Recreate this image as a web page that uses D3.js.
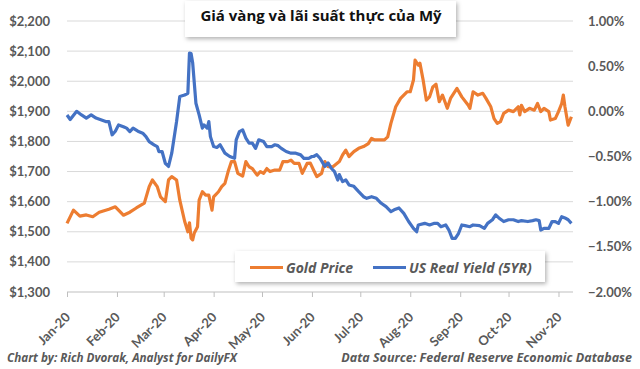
<!DOCTYPE html>
<html>
<head>
<meta charset="utf-8">
<script src="https://cdn.jsdelivr.net/npm/d3@7"></script>
<style>
  html, body { margin: 0; padding: 0; background: #fff; }
  svg { display: block; font-family: Lato, "Open Sans", sans-serif; }
  .wide { font-family: "Open Sans", Lato, sans-serif; }
</style>
</head>
<body>
<div id="chart"></div>
<script>
// Gold price vs US 5yr real yield, Jan - Nov 2020
// days are counted from 1 Jan 2020

const goldDay = [0, 4, 8, 12, 16, 20, 26, 30, 35, 39, 43, 48, 51, 53, 56, 58, 61, 63, 65, 68,
  70, 73, 75, 76, 77, 78, 79, 81, 82, 84, 86, 88, 90, 91, 94, 96, 98, 100, 102, 104,
  106, 109, 111, 113, 115, 118, 120, 122, 124, 126, 129, 132, 134, 137, 139, 141, 144, 146, 149, 151,
  153, 155, 158, 160, 162, 165, 169, 171, 173, 175, 178, 181, 184, 187, 189, 191, 194, 197, 199, 201,
  204, 207, 211, 213, 215, 216, 218, 219, 221, 223, 225, 227, 229, 231, 233, 236, 238, 242, 245, 249,
  250, 252, 255, 258, 260, 263, 265, 267, 269, 271, 274, 277, 280, 281, 282, 284, 287, 290, 292, 294,
  296, 299, 300, 303, 305, 307, 308, 309, 311, 313];
const goldPrice = [1528, 1572, 1552, 1556, 1550, 1565, 1575, 1583, 1555, 1565, 1579, 1595, 1650, 1672, 1650, 1616, 1600, 1672, 1683, 1672,
  1605, 1535, 1500, 1530, 1479, 1473, 1496, 1517, 1605, 1633, 1622, 1622, 1572, 1616, 1633, 1650, 1661, 1700, 1733, 1733,
  1694, 1685, 1733, 1716, 1710, 1688, 1700, 1694, 1710, 1700, 1705, 1705, 1733, 1733, 1738, 1727, 1727, 1694, 1727, 1728,
  1705, 1683, 1694, 1733, 1716, 1716, 1733, 1755, 1771, 1750, 1766, 1777, 1783, 1793, 1810, 1805, 1805, 1805, 1815, 1860,
  1915, 1943, 1965, 1965, 2004, 2070, 2053, 2060, 2004, 1937, 1948, 1981, 1990, 1932, 1954, 1910, 1943, 1976, 1948, 1920,
  1910, 1965, 1954, 1960, 1943, 1915, 1876, 1860, 1866, 1893, 1904, 1899, 1915, 1888, 1920, 1899, 1910, 1904, 1926, 1899,
  1910, 1899, 1871, 1876, 1899, 1926, 1954, 1915, 1854, 1882];

const yieldDay = [0, 2, 6, 9, 12, 15, 18, 21, 24, 26, 28, 30, 32, 35, 37, 39, 41, 44, 47, 49,
  51, 54, 56, 57, 59, 61, 63, 65, 68, 70, 73, 75, 76, 77, 78, 80, 82, 84, 85, 87,
  88, 89, 91, 93, 95, 98, 101, 104, 105, 107, 109, 111, 113, 115, 117, 119, 122, 124, 127, 129,
  131, 133, 136, 139, 142, 145, 147, 150, 152, 153, 155, 157, 160, 162, 164, 166, 168, 169, 171, 173,
  175, 178, 181, 184, 186, 189, 192, 195, 198, 201, 203, 206, 209, 212, 215, 217, 218, 222, 225, 228,
  230, 232, 235, 237, 239, 241, 243, 245, 247, 250, 252, 256, 259, 261, 264, 266, 268, 271, 274, 277,
  280, 282, 286, 289, 291, 293, 294, 296, 299, 301, 303, 305, 307, 309, 311, 313];
const realYield = [-0.04, -0.09, 0.0, -0.04, -0.075, -0.04, -0.075, -0.094, -0.113, -0.113, -0.26, -0.22, -0.15, -0.17, -0.186, -0.224, -0.186, -0.22, -0.242, -0.279,
  -0.335, -0.371, -0.39, -0.445, -0.445, -0.575, -0.61, -0.463, -0.113, 0.164, 0.18, 0.2, 0.645, 0.64, 0.534, 0.09, -0.04, -0.186, -0.15, -0.186,
  -0.113, -0.28, -0.39, -0.40, -0.37, -0.463, -0.5, -0.52, -0.316, -0.224, -0.205, -0.297, -0.353, -0.353, -0.41, -0.316, -0.335, -0.39, -0.39, -0.37,
  -0.38, -0.41, -0.445, -0.463, -0.463, -0.482, -0.52, -0.52, -0.5, -0.5, -0.48, -0.52, -0.61, -0.57, -0.63, -0.667, -0.76, -0.70, -0.778, -0.76,
  -0.815, -0.83, -0.889, -0.945, -0.963, -0.945, -0.963, -1.018, -1.055, -1.11, -1.09, -1.07, -1.13, -1.22, -1.295, -1.333, -1.258, -1.24, -1.258, -1.24,
  -1.24, -1.277, -1.258, -1.314, -1.406, -1.406, -1.35, -1.258, -1.265, -1.277, -1.258, -1.265, -1.295, -1.24, -1.2, -1.147, -1.18, -1.22, -1.2, -1.2,
  -1.22, -1.21, -1.22, -1.21, -1.2, -1.21, -1.314, -1.295, -1.295, -1.22, -1.22, -1.24, -1.166, -1.18, -1.2, -1.24];

const goldTicks = [1300, 1400, 1500, 1600, 1700, 1800, 1900, 2000, 2100, 2200];
const yieldTicks = [1.0, 0.5, 0.0, -0.5, -1.0, -1.5, -2.0];
const monthLabels = ['Jan-20', 'Feb-20', 'Mar-20', 'Apr-20', 'May-20', 'Jun-20', 'Jul-20', 'Aug-20', 'Sep-20', 'Oct-20', 'Nov-20'];

const title = 'Giá vàng và lãi suất thực của Mỹ';
const seriesNames = ['Gold Price', 'US Real Yield (5YR)'];
const creditLeft = 'Chart by: Rich Dvorak, Analyst for DailyFX';
const creditRight = 'Data Source: Federal Reserve Economic Database';

const W = 640, H = 369;
const ORANGE = '#ed7d31', BLUE = '#4472c4', LABEL = '#595959';
const start = new Date(2020, 0, 1);
const toDate = d => d3.timeDay.offset(start, d);

const x = d3.scaleTime().domain([start, new Date(2020, 10, 10)]).range([67, 573]);
const yL = d3.scaleLinear().domain([1300, 2200]).range([292, 21]);
const yR = d3.scaleLinear().domain([-2, 1]).range([292, 21]);

const svg = d3.select('#chart').append('svg')
  .attr('width', W).attr('height', H);

const defs = svg.append('defs');
const sh = defs.append('filter').attr('id', 'shadow')
  .attr('x', '-10%').attr('y', '-30%').attr('width', '120%').attr('height', '170%');
sh.append('feDropShadow').attr('dx', 1.5).attr('dy', 2).attr('stdDeviation', 2)
  .attr('flood-color', '#000').attr('flood-opacity', 0.3);

// gridlines
svg.append('g').selectAll('line')
  .data(goldTicks.slice(1))
  .join('line')
  .attr('x1', 67).attr('x2', 573)
  .attr('y1', d => yL(d)).attr('y2', d => yL(d))
  .attr('stroke', '#d9d9d9').attr('stroke-width', 1);

// bottom axis with month ticks
const xAxis = svg.append('g')
  .attr('transform', `translate(0,${yL(1300)})`)
  .call(d3.axisBottom(x)
    .ticks(d3.timeMonth.every(1))
    .tickSize(5)
    .tickFormat(() => ''));
xAxis.select('.domain').attr('stroke', '#bfbfbf').attr('d', `M67,0H573`);
xAxis.selectAll('.tick line').attr('stroke', '#bfbfbf');

svg.append('g').selectAll('text')
  .data(monthLabels)
  .join('text')
  .attr('transform', (d, i) => `translate(${x(new Date(2020, i, 1)) + 4},${yL(1300) + 26}) rotate(-45)`)
  .attr('text-anchor', 'end')
  .attr('font-size', 13).attr('font-weight', 700)
  .attr('fill', LABEL)
  .text(d => d);

// left axis labels
svg.append('g').selectAll('text')
  .data(goldTicks)
  .join('text')
  .attr('x', 50).attr('y', d => yL(d) + 4.5)
  .attr('text-anchor', 'end')
  .attr('font-size', 13).attr('font-weight', 700)
  .attr('fill', LABEL)
  .text(d => '$' + d3.format(',')(d));

// right axis labels
svg.append('g').selectAll('text')
  .data(yieldTicks)
  .join('text')
  .attr('x', 588).attr('y', d => yR(d) + 4.5)
  .attr('text-anchor', 'start')
  .attr('font-size', 13).attr('font-weight', 700)
  .attr('fill', LABEL)
  .text(d => d3.format('.2f')(d) + '%');

// series
const goldLine = d3.line()
  .x((d, i) => x(toDate(goldDay[i])))
  .y(d => yL(d));
const yieldLine = d3.line()
  .x((d, i) => x(toDate(yieldDay[i])))
  .y(d => yR(d));

svg.append('path')
  .attr('d', goldLine(goldPrice))
  .attr('fill', 'none').attr('stroke', ORANGE)
  .attr('stroke-width', 3.2).attr('stroke-linejoin', 'round');

svg.append('path')
  .attr('d', yieldLine(realYield))
  .attr('fill', 'none').attr('stroke', BLUE)
  .attr('stroke-width', 3.2).attr('stroke-linejoin', 'round');

// title box
svg.append('rect')
  .attr('x', 185).attr('y', 1).attr('width', 271).attr('height', 36)
  .attr('fill', '#fff').attr('filter', 'url(#shadow)');
svg.append('text')
  .attr('class', 'wide')
  .attr('x', 321).attr('y', 21)
  .attr('text-anchor', 'middle')
  .attr('font-size', 15).attr('font-weight', 700)
  .attr('fill', '#111')
  .text(title);

// legend
const lg = svg.append('g');
lg.append('rect')
  .attr('x', 235).attr('y', 251).attr('width', 310).attr('height', 31)
  .attr('fill', '#fff').attr('filter', 'url(#shadow)');
const legendItems = [
  { name: seriesNames[0], color: ORANGE, x: 250 },
  { name: seriesNames[1], color: BLUE, x: 373 }
];
legendItems.forEach(it => {
  lg.append('line')
    .attr('x1', it.x).attr('x2', it.x + 33)
    .attr('y1', 267.5).attr('y2', 267.5)
    .attr('stroke', it.color).attr('stroke-width', 3.2);
  lg.append('text')
    .attr('class', 'wide')
    .attr('x', it.x + 36).attr('y', 272.5)
    .attr('font-size', 14).attr('font-weight', 700).attr('font-style', 'italic')
    .attr('fill', LABEL)
    .text(it.name);
});

// credits
svg.append('text')
  .attr('class', 'wide')
  .attr('x', 7).attr('y', 362)
  .attr('font-size', 11.7).attr('font-weight', 700).attr('font-style', 'italic')
  .attr('fill', LABEL)
  .text(creditLeft);
svg.append('text')
  .attr('class', 'wide')
  .attr('x', 632).attr('y', 362)
  .attr('text-anchor', 'end')
  .attr('font-size', 12.5).attr('font-weight', 700).attr('font-style', 'italic')
  .attr('fill', LABEL)
  .text(creditRight);
</script>
</body>
</html>
